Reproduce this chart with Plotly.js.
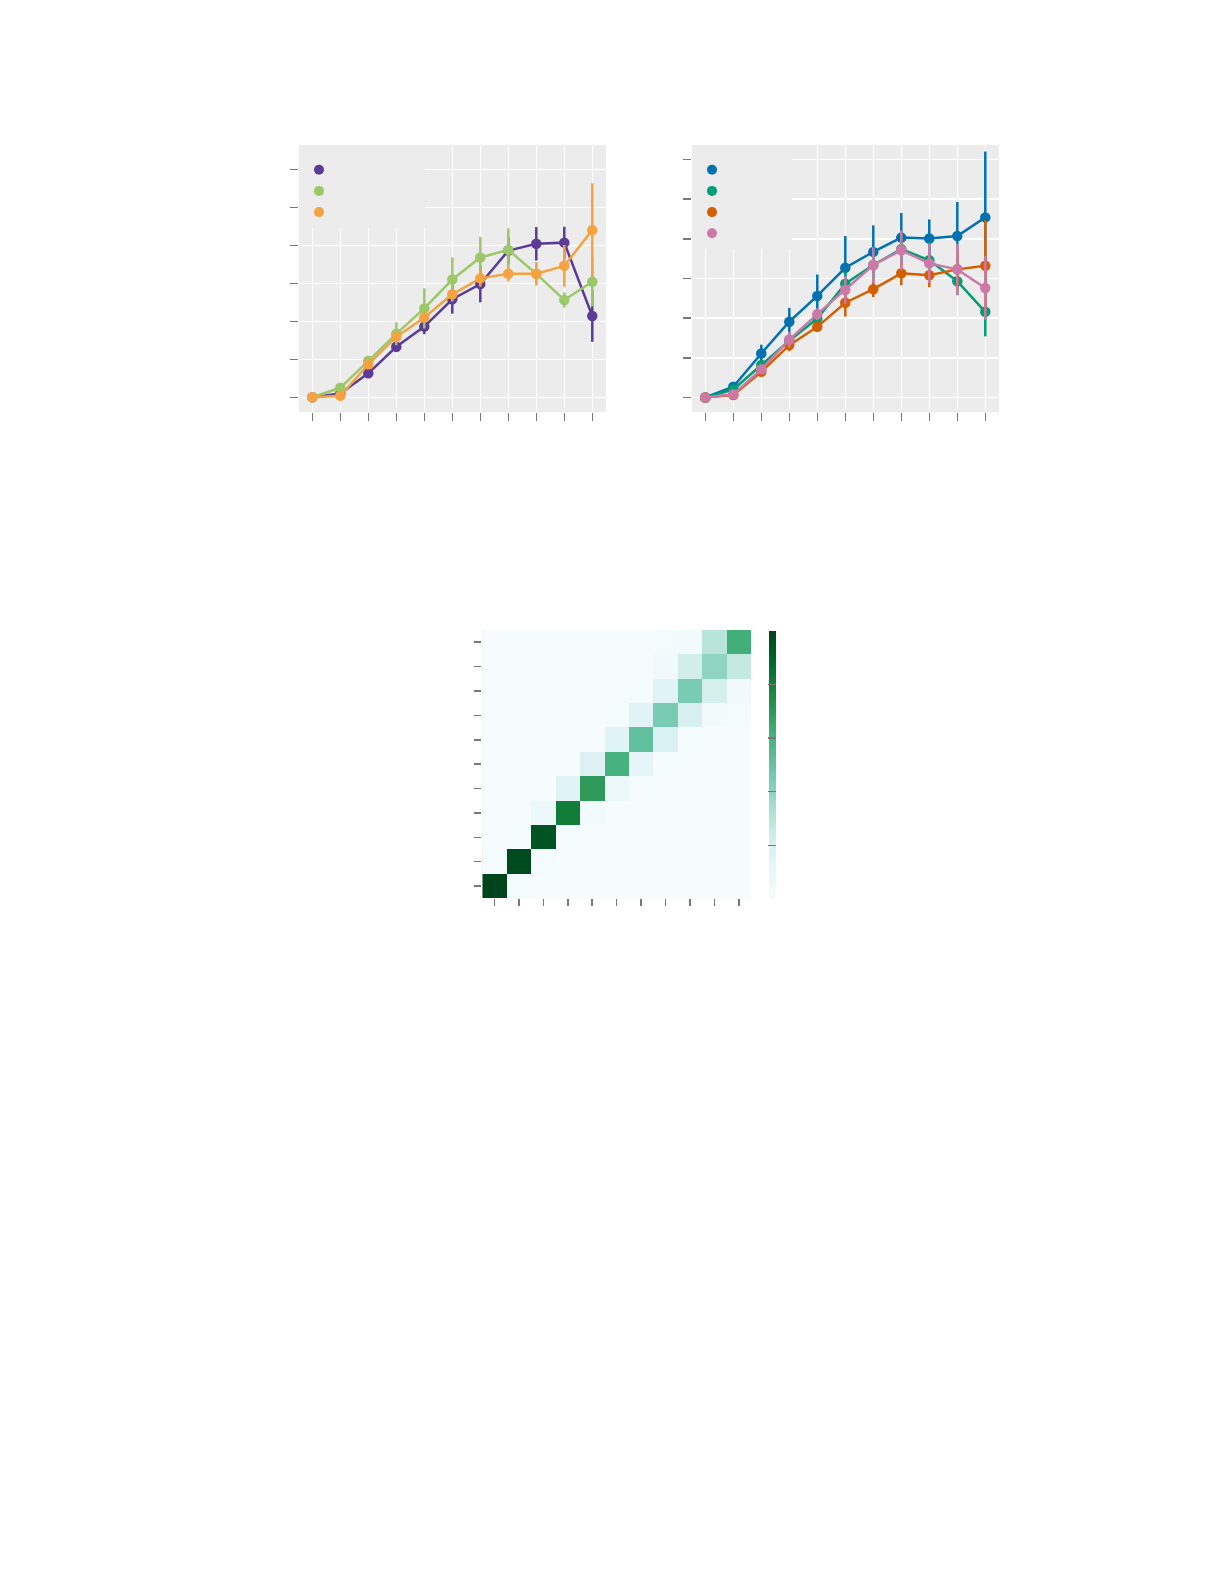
<!DOCTYPE html>
<html>
<head>
<meta charset="utf-8">
<script src="https://cdn.plot.ly/plotly-3.0.1.min.js"></script>
<style>
  html, body { margin: 0; padding: 0; background: #ffffff; }
  #chart { width: 1225px; height: 1585px; }
</style>
</head>
<body>
<div id="chart"></div>
<script>
// shared x positions (11 steps)
var steps = [0, 1, 2, 3, 4, 5, 6, 7, 8, 9, 10];

// left panel: three series
var leftNames = ["\u00a0", "\u00a0", "\u00a0"];
var leftColors = ["#5b3b97", "#9dc86a", "#f4a340"];
var leftPurple = [0, 0.10, 0.63, 1.33, 1.86, 2.58, 2.98, 3.86, 4.04, 4.07, 2.14];
var leftPurpleErr = [0, 0.05, 0.10, 0.14, 0.20, 0.38, 0.48, 0.35, 0.44, 0.42, 0.68];
var leftGreen = [0, 0.25, 0.96, 1.67, 2.34, 3.10, 3.68, 3.88, 3.25, 2.56, 3.04];
var leftGreenErr = [0, 0.04, 0.10, 0.30, 0.53, 0.58, 0.54, 0.57, 0.30, 0.20, 0.65];
var leftOrange = [0, 0.04, 0.87, 1.59, 2.10, 2.71, 3.13, 3.25, 3.25, 3.46, 4.40];
var leftOrangeErr = [0, 0.03, 0.08, 0.15, 0.10, 0.10, 0.22, 0.20, 0.30, 0.55, 1.23];

// right panel: four series
var rightNames = ["\u00a0", "\u00a0", "\u00a0", "\u00a0"];
var rightColors = ["#0072b2", "#009e73", "#d55e00", "#cc79a7"];
var rightBlue = [0, 0.27, 1.11, 1.91, 2.56, 3.27, 3.67, 4.03, 4.01, 4.07, 4.54];
var rightBlueErr = [0, 0.05, 0.22, 0.35, 0.54, 0.80, 0.67, 0.62, 0.48, 0.86, 1.66];
var rightGreen = [0, 0.20, 0.82, 1.43, 1.99, 2.87, 3.34, 3.74, 3.46, 2.93, 2.16];
var rightGreenErr = [0, 0.04, 0.10, 0.15, 0.20, 0.30, 0.40, 0.40, 0.45, 0.35, 0.62];
var rightOrange = [0, 0.06, 0.65, 1.32, 1.78, 2.39, 2.73, 3.13, 3.08, 3.23, 3.32];
var rightOrangeErr = [0, 0.03, 0.08, 0.15, 0.12, 0.35, 0.20, 0.30, 0.30, 0.50, 1.15];
var rightPink = [0, 0.08, 0.71, 1.46, 2.10, 2.71, 3.34, 3.71, 3.38, 3.23, 2.76];
var rightPinkErr = [0, 0.03, 0.08, 0.20, 0.15, 0.35, 0.45, 0.50, 0.50, 0.65, 0.80];

// heatmap (rows from bottom)
var heatZ = [
  [1.00, 0.02, 0.01, 0.01, 0.01, 0.01, 0.01, 0.01, 0.01, 0.01, 0.01],
  [0.02, 0.98, 0.02, 0.01, 0.01, 0.01, 0.01, 0.01, 0.01, 0.01, 0.01],
  [0.01, 0.02, 0.95, 0.02, 0.01, 0.01, 0.01, 0.01, 0.01, 0.01, 0.01],
  [0.01, 0.01, 0.07, 0.81, 0.04, 0.01, 0.01, 0.01, 0.01, 0.01, 0.01],
  [0.01, 0.01, 0.01, 0.15, 0.70, 0.07, 0.02, 0.01, 0.01, 0.01, 0.01],
  [0.01, 0.01, 0.01, 0.01, 0.16, 0.60, 0.12, 0.02, 0.01, 0.01, 0.01],
  [0.01, 0.01, 0.01, 0.01, 0.01, 0.15, 0.52, 0.18, 0.02, 0.01, 0.01],
  [0.01, 0.01, 0.01, 0.01, 0.01, 0.02, 0.15, 0.45, 0.19, 0.03, 0.02],
  [0.01, 0.01, 0.01, 0.01, 0.01, 0.01, 0.02, 0.15, 0.45, 0.21, 0.05],
  [0.01, 0.01, 0.01, 0.01, 0.01, 0.01, 0.01, 0.05, 0.22, 0.40, 0.27],
  [0.01, 0.01, 0.01, 0.01, 0.01, 0.01, 0.01, 0.02, 0.04, 0.30, 0.62]
];
var heatTicks = [0, 0.2, 0.4, 0.6, 0.8, 1.0];

var buGn = [
  [0, "#f7fcfd"], [0.125, "#e5f5f9"], [0.25, "#ccece6"], [0.375, "#99d8c9"],
  [0.5, "#66c2a4"], [0.625, "#41ae76"], [0.75, "#238b45"], [0.875, "#006d2c"], [1, "#00441b"]
];

function series(y, err, color, xa, ya) {
  return {
    x: steps, y: y, xaxis: xa, yaxis: ya,
    mode: "lines+markers", type: "scatter", showlegend: false,
    line: { color: color, width: 2.5 },
    marker: { color: color, size: 10.5 },
    error_y: { type: "data", array: err, visible: true, thickness: 2.5, width: 0, color: color }
  };
}
function key(name, color, legend) {
  return {
    x: [null], y: [null], mode: "markers", type: "scatter", name: name,
    legend: legend, marker: { color: color, size: 10 }, showlegend: true
  };
}

var data = [
  series(leftPurple, leftPurpleErr, leftColors[0], "x", "y"),
  series(leftGreen, leftGreenErr, leftColors[1], "x", "y"),
  series(leftOrange, leftOrangeErr, leftColors[2], "x", "y"),
  series(rightBlue, rightBlueErr, rightColors[0], "x2", "y2"),
  series(rightGreen, rightGreenErr, rightColors[1], "x2", "y2"),
  series(rightOrange, rightOrangeErr, rightColors[2], "x2", "y2"),
  series(rightPink, rightPinkErr, rightColors[3], "x2", "y2"),
  {
    z: heatZ, x: steps, y: steps, type: "heatmap", xaxis: "x3", yaxis: "y3",
    colorscale: buGn, zmin: 0, zmax: 1, showscale: true,
    colorbar: {
      x: 769 / 1225, xanchor: "left", y: 0.5174, yanchor: "middle", len: 0.1693,
      thickness: 7, outlinewidth: 0, xpad: 0, ypad: 0,
      tickvals: heatTicks, showticklabels: false, ticks: "inside", ticklen: 8,
      tickcolor: "#777777", tickwidth: 1.5
    }
  }
];
for (var i = 0; i < leftNames.length; i++) data.push(key(leftNames[i].repeat(22), leftColors[i], "legend"));
for (var j = 0; j < rightNames.length; j++) data.push(key(rightNames[j].repeat(15), rightColors[j], "legend2"));

function lineAxis(domain, range, anchor) {
  return {
    domain: domain, range: range, anchor: anchor,
    tickmode: "linear", tick0: 0, dtick: 1,
    showticklabels: false, ticks: "outside", ticklen: 8, tickwidth: 1.5, tickcolor: "#777777",
    showgrid: true, gridcolor: "#ffffff", gridwidth: 1.5,
    zeroline: false, showline: false
  };
}
function heatAxis(domain, anchor) {
  return {
    domain: domain, range: [-0.5, 10.5], anchor: anchor,
    tickmode: "linear", tick0: 0, dtick: 1,
    showticklabels: false, ticks: "outside", ticklen: 7, tickwidth: 1.5, tickcolor: "#777777",
    showgrid: false, zeroline: false, showline: false
  };
}

function legendStyle(x) {
  return {
    x: x, y: 1 - 145 / 1585, xanchor: "left", yanchor: "top",
    bgcolor: "#ececec", borderwidth: 0, font: { size: 14 }, tracegroupgap: 0,
    title: { text: "\u00a0", font: { size: 7 } }
  };
}

var layout = {
  width: 1225, height: 1585,
  margin: { l: 0, r: 0, t: 0, b: 0 },
  paper_bgcolor: "#ffffff", plot_bgcolor: "#ececec",
  xaxis: lineAxis([299 / 1225, 606 / 1225], [-0.475, 10.49], "y"),
  yaxis: lineAxis([1 - 412 / 1585, 1 - 145 / 1585], [-0.387, 6.64], "x"),
  xaxis2: lineAxis([692 / 1225, 999 / 1225], [-0.475, 10.49], "y2"),
  yaxis2: lineAxis([1 - 412 / 1585, 1 - 145 / 1585], [-0.366, 6.365], "x2"),
  xaxis3: heatAxis([482.3 / 1225, 751 / 1225], "y3"),
  yaxis3: heatAxis([1 - 898.3 / 1585, 1 - 630 / 1585], "x3"),
  legend: legendStyle(299 / 1225),
  legend2: legendStyle(692 / 1225)
};

Plotly.newPlot("chart", data, layout, { displayModeBar: false, staticPlot: true });
</script>
</body>
</html>
